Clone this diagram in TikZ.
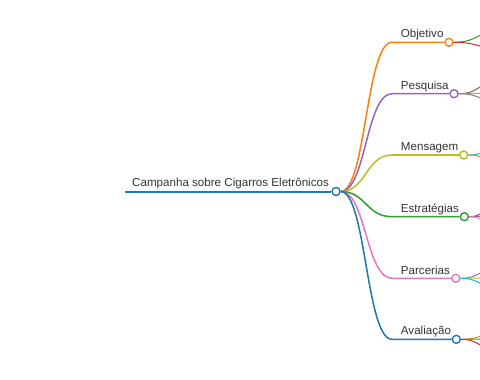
\documentclass[tikz,border=0pt]{standalone}
\usepackage{fontspec}
\setmainfont{Liberation Sans}
\usepackage{tikz}
\usetikzlibrary{positioning}
\definecolor{cblue}{HTML}{1F77B4}
\definecolor{corange}{HTML}{FF7F0E}
\definecolor{cgreen}{HTML}{2CA02C}
\definecolor{cred}{HTML}{D62728}
\definecolor{cpurple}{HTML}{9467BD}
\definecolor{cbrown}{HTML}{8C564B}
\definecolor{cpink}{HTML}{E377C2}
\definecolor{cgray}{HTML}{7F7F7F}
\definecolor{colive}{HTML}{BCBD22}
\definecolor{ccyan}{HTML}{17BECF}
\definecolor{ink}{HTML}{333333}
\tikzset{
  topic/.style={
    anchor=base west, inner sep=0pt, text=ink,
    font=\fontsize{9.9}{12}\selectfont},
  joint/.style={
    circle, draw=#1, fill=white, line width=1.2pt,
    minimum size=0.24cm, inner sep=0pt},
  trunk/.style={draw=cblue, line width=1.7pt},
  branch/.style={draw=#1, line width=1.3pt},
  twig/.style={draw=#1, line width=0.85pt},
}
\begin{document}
\begin{tikzpicture}[x=0.03cm, y=-0.03cm]

  \useasboundingbox (0,0) rectangle (480,379);
  \clip (0,0) rectangle (480,379);

  % root
  \coordinate (rootstart) at (125,191.5);
  \node[topic] (root) at (132,186.7) {Campanha sobre Cigarros Eletrônicos};
  \node[joint=cblue] (rootdot) at (336,191.5) {};

  % first level
  \node[topic] (obj)  at (400.7,37.5)  {Objetivo};
  \node[topic] (pesq) at (400.7,89)    {Pesquisa};
  \node[topic] (msg)  at (400.7,150.7) {Mensagem};
  \node[topic] (estr) at (400.7,212.3) {Estratégias};
  \node[topic] (parc) at (400.7,274)   {Parcerias};
  \node[topic] (aval) at (400.7,334.7) {Avaliação};

  \node[joint=corange] (objdot)  at (449,42.3)    {};
  \node[joint=cpurple] (pesqdot) at (454,93.7)    {};
  \node[joint=colive]  (msgdot)  at (463.7,155)   {};
  \node[joint=cgreen]  (estrdot) at (464.3,216.7) {};
  \node[joint=cpink]   (parcdot) at (455.7,278.3) {};
  \node[joint=cblue]   (avaldot) at (456.3,339.3) {};

  \draw[trunk] (rootstart) -- (rootdot.west);

  \foreach \dot/\yy/\col in {
      objdot/42.3/corange, pesqdot/93.7/cpurple, msgdot/155/colive,
      estrdot/216.7/cgreen, parcdot/278.3/cpink, avaldot/339.3/cblue}
  {
    \coordinate (\dot-bend) at (392,\yy);
    \draw[branch=\col] (rootdot.east) .. controls (366,191.5) and (366,\yy)
      .. (\dot-bend) -- (\dot.west);
  }

  % stubs towards the next level
  \foreach \dot/\h/\ex/\ey/\col in {
      objdot/27/507/28/cgreen,    objdot/27/507/50/cred,
      pesqdot/22/502/80/cbrown,   pesqdot/22/502/93/cpink,    pesqdot/22/502/102/cgray,
      msgdot/12/492/152/ccyan,    msgdot/12/492/158/corange,
      estrdot/12/492/211/cred,    estrdot/12/492/216/cpurple, estrdot/12/492/221/cpink,
      parcdot/20/500/268/cgray,   parcdot/20/500/278/colive,  parcdot/20/500/288/ccyan,
      avaldot/20/500/333/corange, avaldot/20/500/339/cgreen,  avaldot/20/500/351/cred}
  {
    \coordinate (\dot-\ey) at (\ex,\ey);
    \draw[twig=\col] (\dot.east) .. controls +(\h,0) and +(-\h,0) .. (\dot-\ey);
  }

\end{tikzpicture}
\end{document}
